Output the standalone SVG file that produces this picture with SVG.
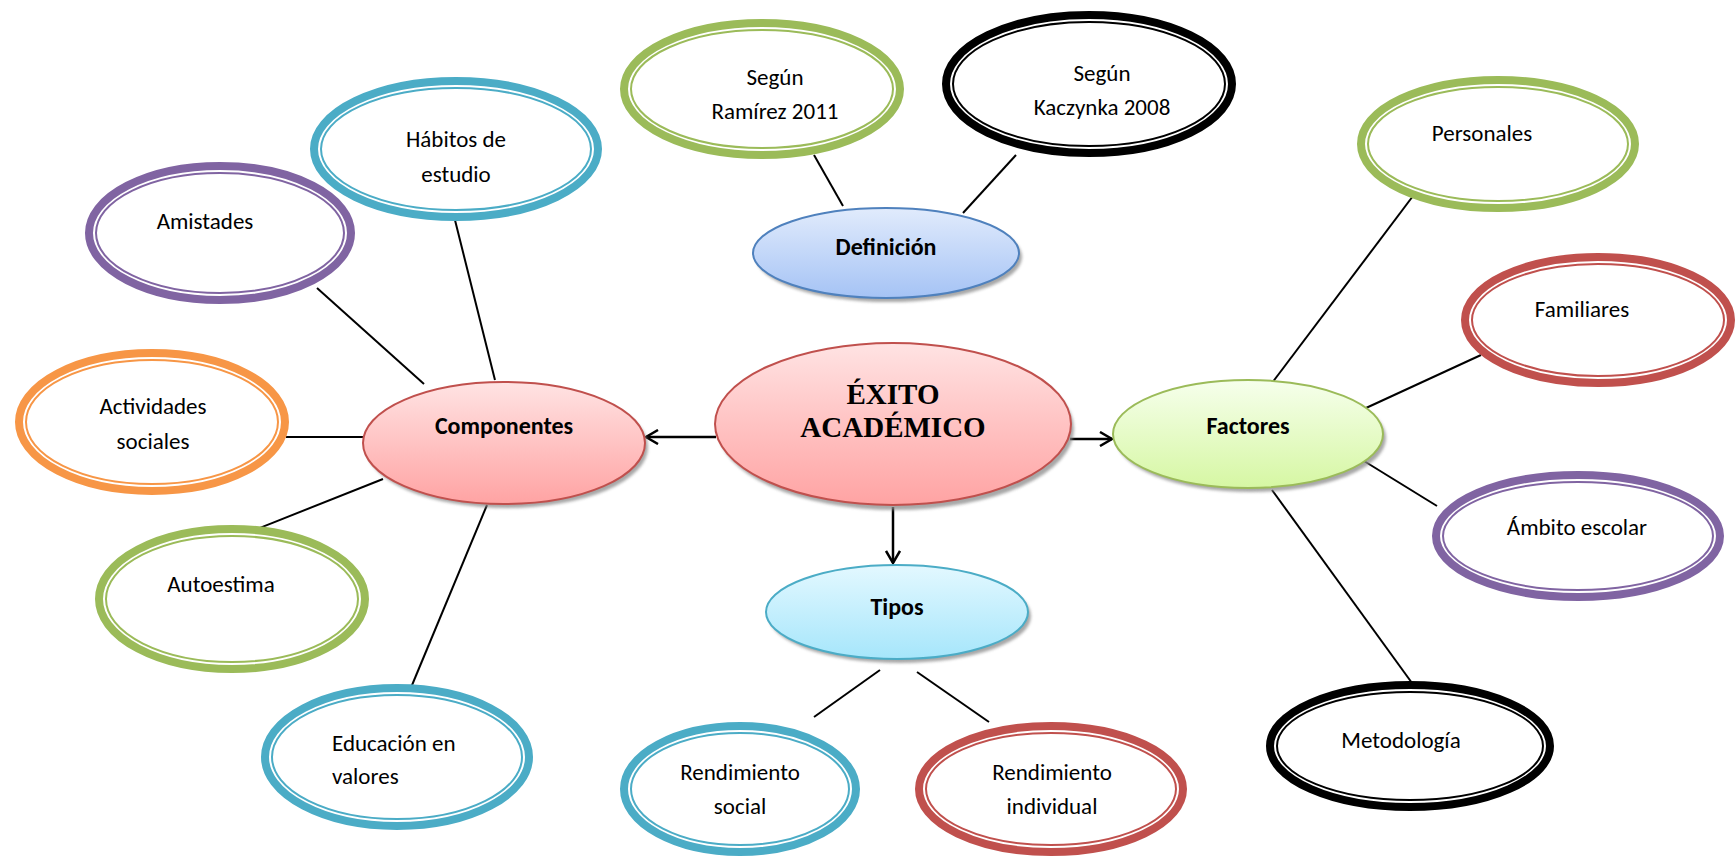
<svg xmlns="http://www.w3.org/2000/svg" width="1736" height="861" viewBox="0 0 1736 861">
<style>
.o{fill:#fff;stroke-width:8}
.i{fill:none;stroke-width:2}
.teal{stroke:#4BACC6}.purple{stroke:#8064A2}.orange{stroke:#F79646}.green{stroke:#9BBB59}.red{stroke:#C0504D}.black{stroke:#000}
.t{font-family:Carlito,Calibri,Lato,"Liberation Sans",sans-serif;font-size:23px;fill:#000;text-anchor:middle}
.b{font-family:Carlito,Calibri,Lato,"Liberation Sans",sans-serif;font-size:24px;font-weight:bold;fill:#000;text-anchor:middle}
.main{font-family:"Liberation Serif","Times New Roman",serif;font-size:29px;font-weight:bold;fill:#000;text-anchor:middle}
.sh{fill:#8a8a8a;opacity:0.75;filter:url(#blur)}
.ln{stroke:#000;stroke-width:2;fill:none}
.ar{stroke:#000;stroke-width:2.5;fill:none;marker-end:url(#arr)}
</style>
<defs>
<filter id="blur" x="-10%" y="-10%" width="120%" height="130%"><feGaussianBlur stdDeviation="1.5"/></filter>
<marker id="arr" viewBox="0 0 16 16" refX="14" refY="8" markerWidth="16" markerHeight="16" markerUnits="userSpaceOnUse" orient="auto">
<path d="M2,1 L14,8 L2,15" fill="none" stroke="#000" stroke-width="2.5"/>
</marker>
<linearGradient id="gRed" x1="0" y1="0" x2="0" y2="1"><stop offset="0" stop-color="#FFE3E3"/><stop offset="1" stop-color="#FFA3A3"/></linearGradient>
<linearGradient id="gGreen" x1="0" y1="0" x2="0" y2="1"><stop offset="0" stop-color="#F6FFEC"/><stop offset="1" stop-color="#D6F7A3"/></linearGradient>
<linearGradient id="gBlue" x1="0" y1="0" x2="0" y2="1"><stop offset="0" stop-color="#E1EBFC"/><stop offset="1" stop-color="#A5C3F5"/></linearGradient>
<linearGradient id="gCyan" x1="0" y1="0" x2="0" y2="1"><stop offset="0" stop-color="#E3F8FF"/><stop offset="1" stop-color="#A6E6FB"/></linearGradient>
</defs>

<g id="connectors">
<line class="ln" x1="454" y1="216" x2="495" y2="380"/>
<line class="ln" x1="317" y1="288" x2="424" y2="384"/>
<line class="ln" x1="286" y1="437" x2="363" y2="437"/>
<line class="ln" x1="252" y1="531" x2="383" y2="479"/>
<line class="ln" x1="410" y1="690" x2="487" y2="505"/>
<line class="ln" x1="814" y1="155" x2="843" y2="206"/>
<line class="ln" x1="1016" y1="155" x2="963" y2="213"/>
<line class="ln" x1="1416" y1="192" x2="1272" y2="383"/>
<line class="ln" x1="1481" y1="355" x2="1366" y2="408"/>
<line class="ln" x1="1437" y1="506" x2="1364" y2="461"/>
<line class="ln" x1="1412" y1="683" x2="1272" y2="490"/>
<line class="ln" x1="880" y1="670" x2="814" y2="717"/>
<line class="ln" x1="917" y1="672" x2="989" y2="722"/>
<line class="ar" x1="716" y1="437" x2="646" y2="437"/>
<line class="ar" x1="1070" y1="439" x2="1112" y2="439"/>
<line class="ar" x1="893" y1="507" x2="893" y2="563"/>
</g>

<g id="exito">
<ellipse class="sh" cx="896" cy="429" rx="178" ry="81"/>
<ellipse cx="893" cy="424" rx="178" ry="81" fill="url(#gRed)" stroke="#C0504D" stroke-width="2"/>
<text class="main" x="893" y="404">ÉXITO</text>
<text class="main" x="893" y="437">ACADÉMICO</text>
</g>

<g id="componentes">
<ellipse class="sh" cx="507" cy="447" rx="141" ry="61"/>
<ellipse cx="504" cy="443" rx="141" ry="61" fill="url(#gRed)" stroke="#C0504D" stroke-width="2"/>
<text class="b" x="504" y="434">Componentes</text>
</g>

<g id="factores">
<ellipse class="sh" cx="1251" cy="438" rx="135" ry="54"/>
<ellipse cx="1248" cy="434" rx="135" ry="54" fill="url(#gGreen)" stroke="#9BBB59" stroke-width="2"/>
<text class="b" x="1248" y="434">Factores</text>
</g>

<g id="tipos">
<ellipse class="sh" cx="900" cy="616" rx="131" ry="47"/>
<ellipse cx="897" cy="612" rx="131" ry="47" fill="url(#gCyan)" stroke="#4BACC6" stroke-width="2"/>
<text class="b" x="897" y="615">Tipos</text>
</g>

<g id="definicion">
<ellipse class="sh" cx="889" cy="257" rx="133" ry="45"/>
<ellipse cx="886" cy="253" rx="133" ry="45" fill="url(#gBlue)" stroke="#4F81BD" stroke-width="2"/>
<text class="b" x="886" y="255">Definición</text>
</g>

<g id="habitos">
<ellipse class="o teal" cx="456" cy="149" rx="142" ry="68"/>
<ellipse class="i teal" cx="456" cy="149" rx="135" ry="61"/>
<text class="t" x="456" y="147">Hábitos de</text>
<text class="t" x="456" y="182">estudio</text>
</g>

<g id="amistades">
<ellipse class="o purple" cx="220" cy="233" rx="131" ry="67"/>
<ellipse class="i purple" cx="220" cy="233" rx="124" ry="60"/>
<text class="t" x="205" y="229">Amistades</text>
</g>

<g id="actividades">
<ellipse class="o orange" cx="152" cy="422" rx="133" ry="69"/>
<ellipse class="i orange" cx="152" cy="422" rx="126" ry="62"/>
<text class="t" x="153" y="414">Actividades</text>
<text class="t" x="153" y="449">sociales</text>
</g>

<g id="autoestima">
<ellipse class="o green" cx="232" cy="599" rx="133" ry="70"/>
<ellipse class="i green" cx="232" cy="599" rx="126" ry="63"/>
<text class="t" x="221" y="592">Autoestima</text>
</g>

<g id="educacion">
<ellipse class="o teal" cx="397" cy="757" rx="132" ry="69"/>
<ellipse class="i teal" cx="397" cy="757" rx="125" ry="62"/>
<text class="t" x="332" y="751" style="text-anchor:start">Educación en</text>
<text class="t" x="332" y="784" style="text-anchor:start">valores</text>
</g>

<g id="ramirez">
<ellipse class="o green" cx="762" cy="89" rx="138" ry="66"/>
<ellipse class="i green" cx="762" cy="89" rx="131" ry="59"/>
<text class="t" x="775" y="85">Según</text>
<text class="t" x="775" y="119">Ramírez 2011</text>
</g>

<g id="kaczynka">
<ellipse class="o black" cx="1089" cy="84" rx="143" ry="69"/>
<ellipse class="i black" cx="1089" cy="84" rx="136" ry="62"/>
<text class="t" x="1102" y="81">Según</text>
<text class="t" x="1102" y="115">Kaczynka 2008</text>
</g>

<g id="personales">
<ellipse class="o green" cx="1498" cy="144" rx="137" ry="64"/>
<ellipse class="i green" cx="1498" cy="144" rx="130" ry="57"/>
<text class="t" x="1482" y="141">Personales</text>
</g>

<g id="familiares">
<ellipse class="o red" cx="1598" cy="320" rx="133" ry="63"/>
<ellipse class="i red" cx="1598" cy="320" rx="126" ry="56"/>
<text class="t" x="1582" y="317">Familiares</text>
</g>

<g id="ambito">
<ellipse class="o purple" cx="1578" cy="536" rx="142" ry="61"/>
<ellipse class="i purple" cx="1578" cy="536" rx="135" ry="54"/>
<text class="t" x="1577" y="535">Ámbito escolar</text>
</g>

<g id="metodologia">
<ellipse class="o black" cx="1410" cy="746" rx="140" ry="61"/>
<ellipse class="i black" cx="1410" cy="746" rx="133" ry="54"/>
<text class="t" x="1401" y="748">Metodología</text>
</g>

<g id="rend-social">
<ellipse class="o teal" cx="740" cy="789" rx="116" ry="63"/>
<ellipse class="i teal" cx="740" cy="789" rx="109" ry="56"/>
<text class="t" x="740" y="780">Rendimiento</text>
<text class="t" x="740" y="814">social</text>
</g>

<g id="rend-individual">
<ellipse class="o red" cx="1051" cy="789" rx="132" ry="63"/>
<ellipse class="i red" cx="1051" cy="789" rx="125" ry="56"/>
<text class="t" x="1052" y="780">Rendimiento</text>
<text class="t" x="1052" y="814">individual</text>
</g>
</svg>
